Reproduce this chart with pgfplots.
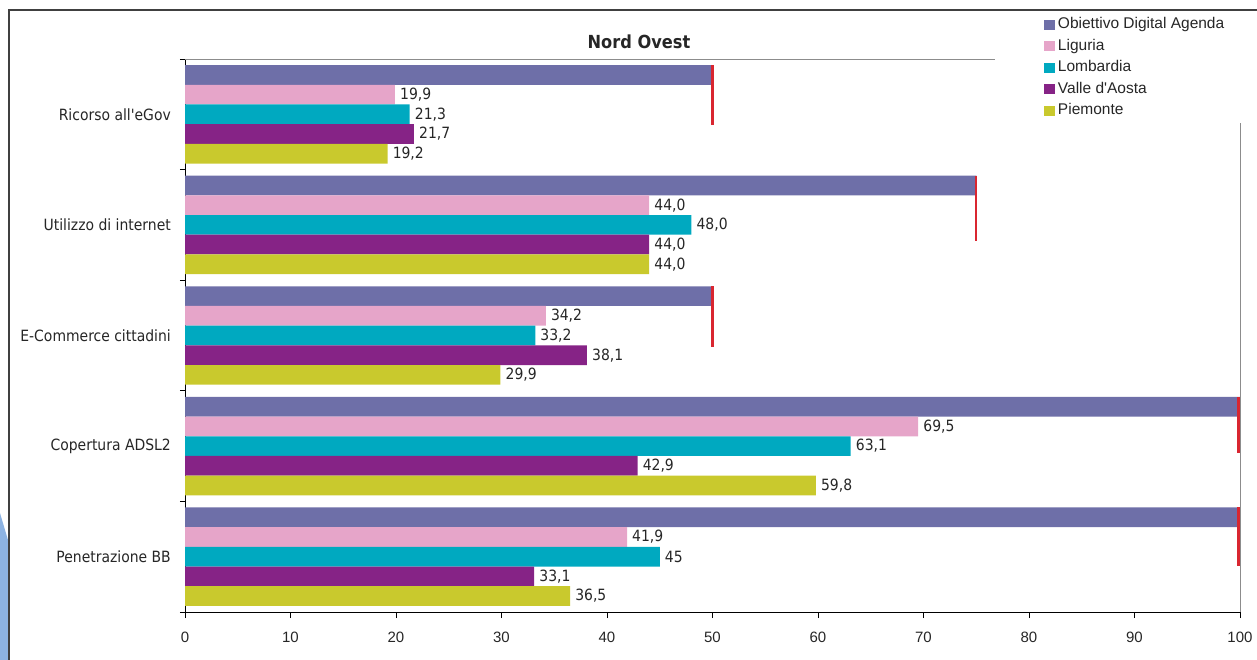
\documentclass[border=0pt]{standalone}
\usepackage{fontspec}
\setmainfont{Liberation Sans}[Ligatures=TeXOff]
\newfontfamily\cond{DejaVu Sans Condensed}[Ligatures=TeXOff]
\usepackage{pgfplots}
\pgfplotsset{compat=1.18}

\definecolor{objc}{HTML}{6E6FA8}
\definecolor{ligc}{HTML}{E6A5C9}
\definecolor{lomc}{HTML}{00A9C0}
\definecolor{vdac}{HTML}{862386}
\definecolor{piec}{HTML}{C9C92D}
\definecolor{targc}{HTML}{D92630}
\definecolor{wedgec}{HTML}{8DB3E2}
\definecolor{txtc}{HTML}{262626}

\pgfplotsset{
  bars/.style={draw=none,
    legend image code/.code={\fill[##1, draw=none] (0bp,-5bp) rectangle (11bp,5bp);}},
  vals/.style={nodes near coords, point meta=explicit symbolic,
    every node near coord/.append style={anchor=west, inner sep=0pt, xshift=5bp,
      font=\cond\fontsize{15.5bp}{18bp}\selectfont, text=txtc}},
}

\begin{document}
\begin{tikzpicture}
\clip (0bp,0bp) rectangle (1257bp,660bp);
% light blue wedge and outer frame of the sheet
\fill[wedgec] (0bp,147bp) -- (8bp,120bp) -- (8bp,0bp) -- (0bp,0bp) -- cycle;
\draw[black!75, line width=1.6bp] (9bp,-2bp) -- (9bp,650bp) -- (1260bp,650bp);

\begin{axis}[
  at={(185bp,48bp)}, anchor=south west,
  scale only axis, width=1055bp, height=553bp,
  xbar, bar width=0.178,
  xmin=0, xmax=100, ymin=-0.5, ymax=4.5, y dir=reverse,
  axis x line*=bottom, axis y line*=left,
  axis line style={-, black, line width=0.9bp},
  tick align=outside,
  xtick={0,10,...,100},
  major tick length=6bp, minor tick length=5bp,
  ytick={0,1,2,3,4},
  yticklabels={Ricorso all'eGov, Utilizzo di internet, E-Commerce cittadini, Copertura ADSL2, Penetrazione BB},
  minor ytick={-0.5,0.5,...,4.5},
  every major y tick/.style={draw=none},
  every minor y tick/.style={black, line width=0.8bp},
  every major x tick/.style={black, line width=0.8bp},
  /pgf/number format/assume math mode=true,
  xticklabel style={font=\fontsize{15bp}{18bp}\selectfont, text=txtc, yshift=-10bp},
  yticklabel style={font=\cond\fontsize{15.5bp}{18bp}\selectfont, text=txtc, inner sep=0pt, xshift=-8bp},
  title={\bfseries Nord Ovest},
  title style={font=\cond\fontsize{18bp}{21bp}\selectfont, text=txtc, at={(0.4303,1.0199)}, anchor=center},
  legend style={at={(0.8142,1.0750)}, anchor=north west, draw=none, fill=none,
    inner sep=0pt, outer sep=0pt, row sep=7.5bp, column sep=3bp,
    font=\fontsize{15.5bp}{18bp}\selectfont, text=txtc,
    nodes={inner sep=0pt, text height=11bp, text depth=3bp}},
  legend cell align=left,
  clip=false,
]
\addplot[bars, fill=objc, bar shift=-0.356] coordinates {(50,0) (75,1) (50,2) (100,3) (100,4)};
\addlegendentry{Obiettivo Digital Agenda}
\addplot[bars, vals, fill=ligc, bar shift=-0.178] coordinates {
  (19.9,0) [19,9] (44.0,1) [44,0] (34.2,2) [34,2] (69.5,3) [69,5] (41.9,4) [41,9]};
\addlegendentry{Liguria}
\addplot[bars, vals, fill=lomc, bar shift=0] coordinates {
  (21.3,0) [21,3] (48.0,1) [48,0] (33.2,2) [33,2] (63.1,3) [63,1] (45,4) [45]};
\addlegendentry{Lombardia}
\addplot[bars, vals, fill=vdac, bar shift=0.178] coordinates {
  (21.7,0) [21,7] (44.0,1) [44,0] (38.1,2) [38,1] (42.9,3) [42,9] (33.1,4) [33,1]};
\addlegendentry{Valle d'Aosta}
\addplot[bars, vals, fill=piec, bar shift=0.356] coordinates {
  (19.2,0) [19,2] (44.0,1) [44,0] (29.9,2) [29,9] (59.8,3) [59,8] (36.5,4) [36,5]};
\addlegendentry{Piemonte}
% target markers of the Digital Agenda
\addplot[sharp plot, targc, line width=2.3bp, unbounded coords=jump, forget plot] coordinates {
  (50,-0.445) (50,0.097) (nan,nan)
  (75,0.555) (75,1.145) (nan,nan)
  (50,1.555) (50,2.104) (nan,nan)
  (99.85,2.555) (99.85,3.062) (nan,nan)
  (99.85,3.555) (99.85,4.084)};
% upper and right border of the plot area
\draw[black!45, line width=0.9bp] (rel axis cs:0,1) -- (rel axis cs:0.768,1);
\draw[black!45, line width=0.9bp] (rel axis cs:1,0) -- (rel axis cs:1,0.884);
\end{axis}
\end{tikzpicture}
\end{document}
